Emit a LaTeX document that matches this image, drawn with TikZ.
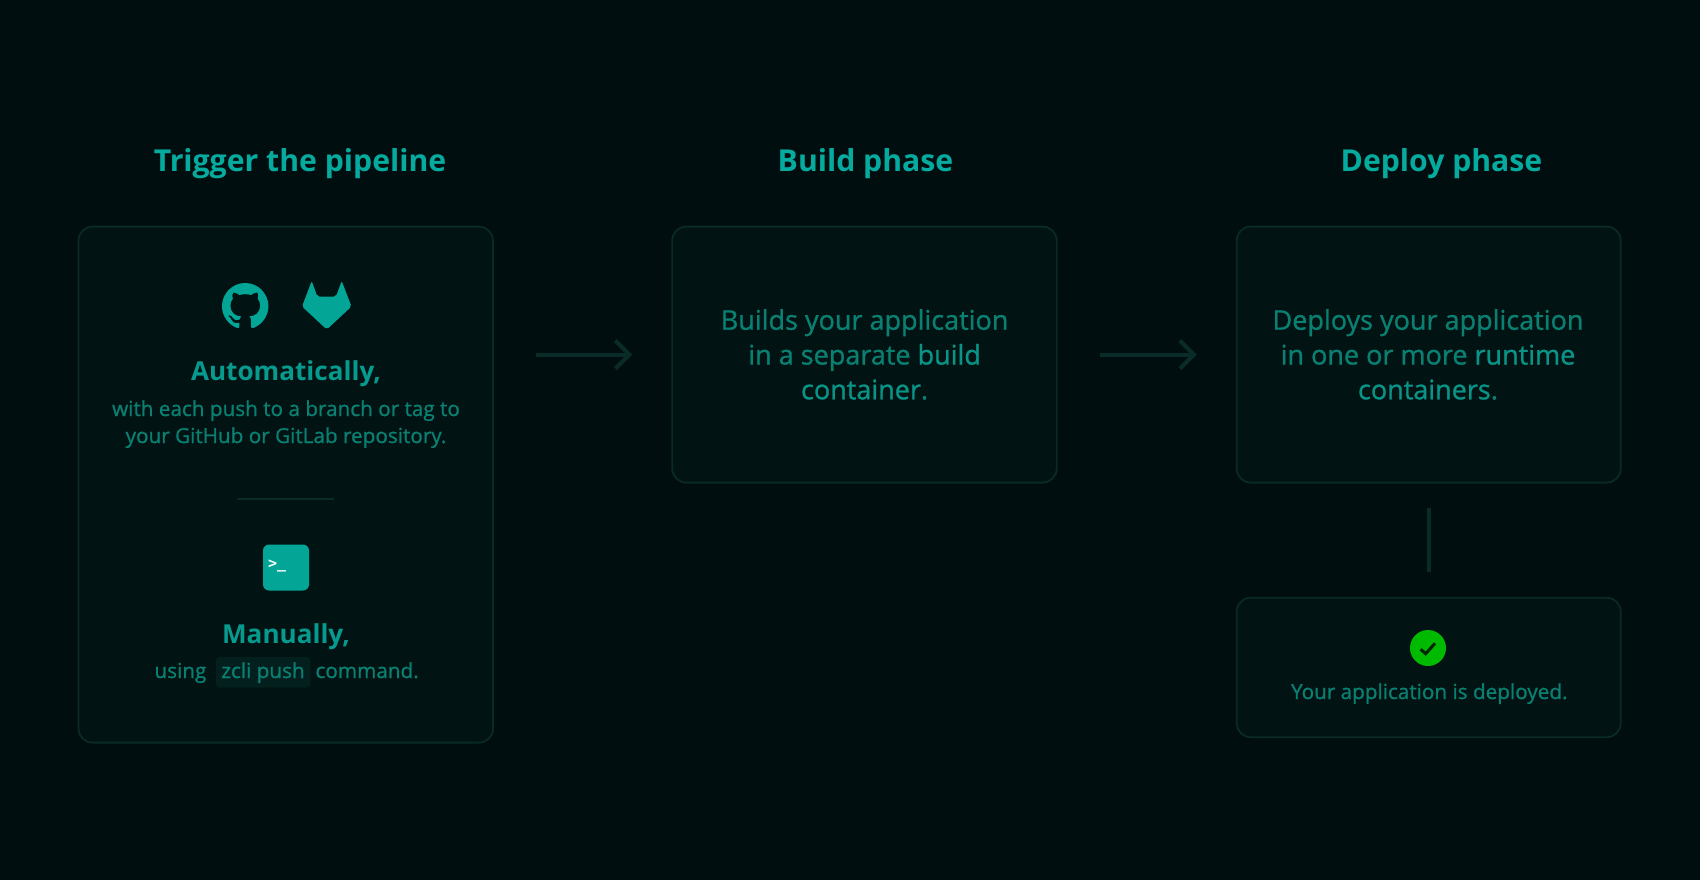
\documentclass[tikz,border=0pt]{standalone}
\usepackage{fontspec}
\setmainfont{Open Sans}
\newfontfamily\medfont[FakeBold=1]{Open Sans}
\newfontfamily\termfont{DejaVu Sans Mono}
\usetikzlibrary{arrows.meta,svg.path}
\definecolor{bgc}{HTML}{000E0F}
\definecolor{boxc}{HTML}{011312}
\definecolor{linec}{HTML}{0A2A27}
\definecolor{arrowc}{HTML}{0A2C29}
\definecolor{titlec}{HTML}{05AB9E}
\definecolor{headc}{HTML}{069B8E}
\definecolor{bodyc}{HTML}{0A8072}
\definecolor{strongc}{HTML}{0A9488}
\definecolor{chipc}{HTML}{03201F}
\definecolor{termc}{HTML}{03A596}
\definecolor{okc}{HTML}{00BA00}
\tikzset{
  every node/.style={inner sep=0pt,outer sep=0pt},
  panel/.style={draw=linec,line width=1.8pt,fill=boxc,rounded corners=14pt,anchor=north west},
  title/.style={anchor=base,text=titlec,font=\fontsize{30.2}{36}\selectfont\bfseries},
  head/.style={anchor=base,text=headc,font=\fontsize{26.1}{30}\selectfont\bfseries},
  small/.style={anchor=base,text=bodyc,font=\fontsize{20.7}{24}\selectfont\medfont},
  big/.style={anchor=base,text=bodyc,font=\fontsize{27}{30}\selectfont\medfont},
  flow/.style={draw=arrowc,line width=4pt},
  tip/.style={-{Straight Barb[length=14pt,width=28pt,line width=4pt]}},
}
\newcommand{\strongw}[1]{\textcolor{strongc}{#1}}
\begin{document}
\begin{tikzpicture}[x=1pt,y=-1pt]
\path[use as bounding box,fill=bgc] (0,0) rectangle (1700,880);
\begin{scope}[yshift=-1pt]
% panels
\node[panel,minimum width=414.5pt,minimum height=516pt] (trigger) at (78.5,225.6) {};
\node[panel,minimum width=384.5pt,minimum height=256pt] (build) at (672.2,225.6) {};
\node[panel,minimum width=384pt,minimum height=256pt] (deploy) at (1236.7,225.6) {};
\node[panel,minimum width=384pt,minimum height=139.5pt] (done) at (1236.7,596.7) {};
% titles
\node[title] (t1) at (300,170.3) {Trigger the pipeline};
\node[title] (t2) at (865.5,170.3) {Build phase};
\node[title] (t3) at (1441.5,170.3) {Deploy phase};
% connectors
\draw[flow,tip,shorten <=43pt,shorten >=40pt] (build.west -| trigger.east) -- (build.west);
\draw[flow,tip,shorten <=43pt,shorten >=40pt] (build.east) -- (deploy.west);
\draw[flow,shorten <=25.6pt,shorten >=25.6pt] (deploy.south) -- (done.north);
% github icon
\begin{scope}[shift={(222,282)},xscale=2.9,yscale=-2.9]
\fill[termc] svg "M 8 0 C 3.58 0 0 3.58 0 8 c 0 3.54 2.29 6.53 5.47 7.59 0.4 0.07 0.55 -0.17 0.55 -0.38 0 -0.19 -0.01 -0.82 -0.01 -1.49 -2.01 0.37 -2.53 -0.49 -2.69 -0.94 -0.09 -0.23 -0.48 -0.94 -0.82 -1.13 -0.28 -0.15 -0.68 -0.52 -0.01 -0.53 0.63 -0.01 1.08 0.58 1.23 0.82 0.72 1.21 1.87 0.87 2.33 0.66 0.07 -0.52 0.28 -0.87 0.51 -1.07 -1.78 -0.2 -3.64 -0.89 -3.64 -3.95 0 -0.87 0.31 -1.59 0.82 -2.15 -0.08 -0.2 -0.36 -1.02 0.08 -2.12 0 0 0.67 -0.21 2.2 0.82 0.64 -0.18 1.32 -0.27 2 -0.27 0.68 0 1.36 0.09 2 0.27 1.53 -1.04 2.2 -0.82 2.2 -0.82 0.44 1.1 0.16 1.92 0.08 2.12 0.51 0.56 0.82 1.27 0.82 2.15 0 3.07 -1.87 3.75 -3.65 3.95 0.29 0.25 0.54 0.73 0.54 1.48 0 1.07 -0.01 1.93 -0.01 2.2 0 0.21 0.15 0.46 0.55 0.38 C 13.71 14.53 16 11.53 16 8 c 0 -4.42 -3.58 -8 -8 -8 z";
\end{scope}
% gitlab icon
\fill[termc,rounded corners=2pt] (311.7,280) -- (317.3,295.5) -- (336,295.5) -- (341.7,280) -- (351.5,305.5) -- (326.8,328.5) -- (302,305.5) -- cycle;
% automatic text
\node[head] (autoh) at (286,379) {Automatically,};
\node[small] (auto1) at (286,415) {with each push to a branch or tag to};
\node[small] (auto2) at (286,442) {your GitHub or GitLab repository.};
% divider
\coordinate (divl) at (237,498);
\coordinate (divr) at (334,498);
\draw[linec,line width=1.2pt] (divl) -- (divr);
% terminal icon
\node[fill=termc,rounded corners=6pt,minimum width=46pt,minimum height=46pt] (term) at (286,566.5) {};
\node[anchor=base west,text=white,font=\fontsize{15}{15}\selectfont\termfont\bfseries] (prompt) at (268,567) {>\_};
% manual text
\node[head] (manh) at (286,642.2) {Manually,};
\node[small,anchor=base west] (using) at (154.5,677) {using};
\node[fill=chipc,rounded corners=4pt,minimum width=94.7pt,minimum height=30.7pt] (chip) at (263.3,671.3) {};
\node[small,anchor=base] (zcli) at (263,677) {zcli push};
\node[small,anchor=base west] (cmd) at (315.5,677) {command.};
% build text
\node[big] (b1) at (864.6,328.7) {Builds your application};
\node[big] (b2) at (864.6,363.5) {in a separate \strongw{build}};
\node[big] (b3) at (864.6,398.3) {\strongw{container}.};
% deploy text
\node[big] (d1) at (1428,328.7) {Deploys your application};
\node[big] (d2) at (1428,363.5) {in one or more \strongw{runtime}};
\node[big] (d3) at (1428,398.3) {\strongw{containers}.};
% done
\node[circle,fill=okc,minimum size=36pt] (ok) at (1428,647) {};
\coordinate (ck1) at (1420.7,648.3);
\coordinate (ck2) at (1425.7,652.7);
\coordinate (ck3) at (1435,642.3);
\draw[draw=black!85!green,line width=3pt] (ck1) -- (ck2) -- (ck3);
\node[small] (dt) at (1429.3,698) {Your application is deployed.};
\end{scope}
\end{tikzpicture}
\end{document}
